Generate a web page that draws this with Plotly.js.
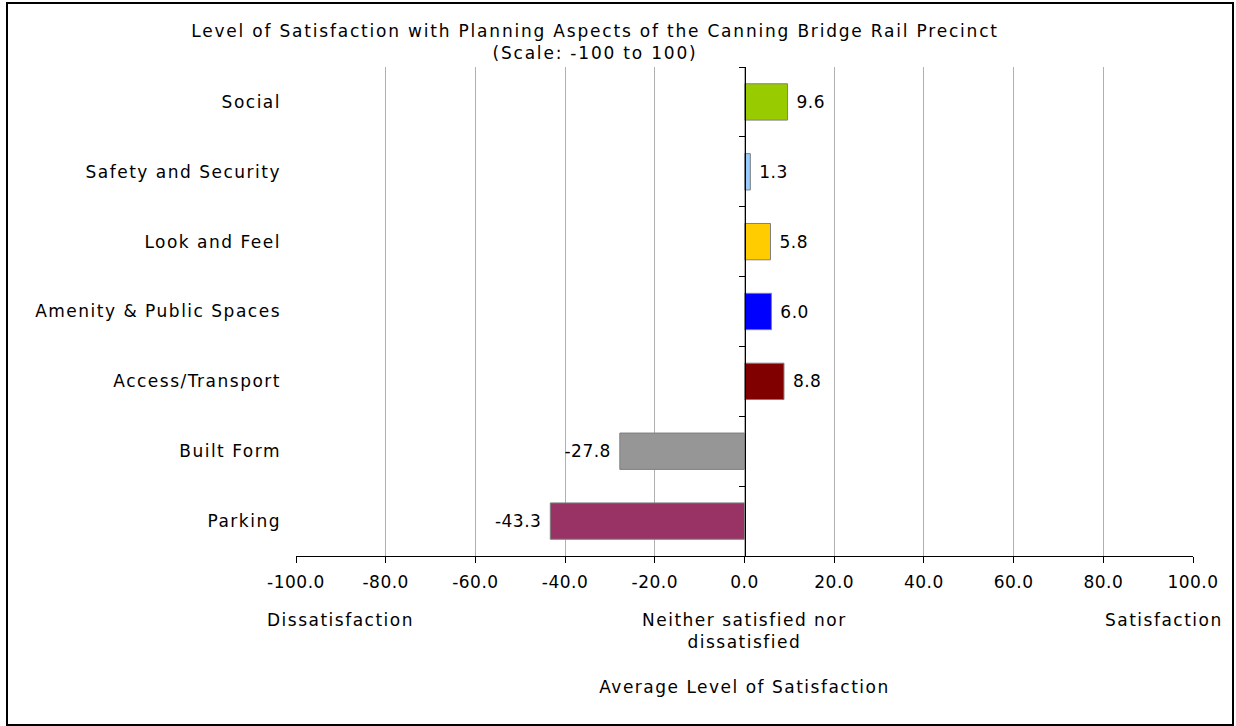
<!DOCTYPE html>
<html>
<head>
<meta charset="utf-8">
<script src="https://cdn.plot.ly/plotly-3.0.1.min.js"></script>
<style>
html,body{margin:0;padding:0;background:#fff;}
#chart{width:1236px;height:726px;}
svg text{letter-spacing:1.5px;}
svg .gtitle{letter-spacing:1.8px;}
svg .xtick text, svg .bartext{letter-spacing:0.5px;}
</style>
</head>
<body>
<div id="chart"></div>
<script>
// Data (top to bottom order as shown)
const categories = ["Social", "Safety and Security", "Look and Feel", "Amenity & Public Spaces", "Access/Transport", "Built Form", "Parking"];
const values = [9.6, 1.3, 5.8, 6.0, 8.8, -27.8, -43.3];
const barColors = ["#99CC00", "#99CCFF", "#FFCC00", "#0000FF", "#800000", "#969696", "#993366"];
const xTickVals = [-100, -80, -60, -40, -20, 0, 20, 40, 60, 80, 100];
const titleText = "Level of Satisfaction with Planning Aspects of the Canning Bridge Rail Precinct<br>(Scale: -100 to 100)";
const xTitleText = "Average Level of Satisfaction";

const FONT = "DejaVu Sans, Verdana, sans-serif";
const fontSize = 17;
const NB = "\u00a0";

// between-category tick positions for the zero axis
const catTicks = [];
for (let i = 0; i < categories.length; i++) catTicks.push(i - 0.5);

const trace = {
  type: "bar",
  orientation: "h",
  y: categories,
  x: values,
  marker: { color: barColors, line: { color: "#7f7f7f", width: 1 } },
  width: 0.52,
  text: values.map(v => v >= 0 ? NB + v.toFixed(1) : v.toFixed(1) + NB),
  textposition: "outside",
  textfont: { family: FONT, size: fontSize, color: "#000" },
  cliponaxis: false,
  hoverinfo: "x+y"
};

const W = 1236, H = 726;
const L = 296, R = 43, T = 67, B = 170;
const pw = W - L - R, ph = H - T - B;
const px = v => (v - L) / pw;        // pixel x -> paper x
const py = v => (H - B - v) / ph;    // pixel y -> paper y

const layout = {
  width: W, height: H,
  margin: { l: L, r: R, t: T, b: B },
  paper_bgcolor: "#fff",
  plot_bgcolor: "#fff",
  showlegend: false,
  font: { family: FONT, size: fontSize, color: "#000" },
  title: {
    text: titleText,
    font: { family: FONT, size: fontSize, color: "#000" },
    xref: "container", x: 595 / W, xanchor: "center",
    yref: "container", y: 1 - 37 / H, yanchor: "middle"
  },
  bargap: 0.48,
  xaxis: {
    range: [-100, 100],
    tickvals: xTickVals,
    ticktext: xTickVals.map(v => v.toFixed(1)),
    ticks: "outside", ticklen: 6, tickcolor: "#000", tickwidth: 1,
    ticklabelstandoff: 5,
    showline: true, linecolor: "#000", linewidth: 1,
    showgrid: true, gridcolor: "#b0b0b0", gridwidth: 1,
    zeroline: false,
    tickfont: { family: FONT, size: fontSize, color: "#000" },
    title: { text: xTitleText, font: { family: FONT, size: fontSize, color: "#000" }, standoff: 89 },
    fixedrange: true
  },
  yaxis: {
    type: "category",
    autorange: "reversed",
    showgrid: false, zeroline: false, showline: false,
    ticks: "", ticklabelstandoff: 14,
    tickfont: { family: FONT, size: fontSize, color: "#000" },
    fixedrange: true
  },
  yaxis2: {
    overlaying: "y",
    anchor: "free",
    position: 0.5,
    side: "left",
    range: [categories.length - 0.5, -0.5],
    tickvals: catTicks,
    showticklabels: false,
    ticks: "outside", ticklen: 6, tickcolor: "#000",
    showline: true, linecolor: "#000", linewidth: 1,
    showgrid: false, zeroline: false,
    fixedrange: true
  },
  annotations: [
    { text: "Dissatisfaction", xref: "paper", yref: "paper", x: px(340), y: py(620), xanchor: "center", yanchor: "middle", showarrow: false, font: { family: FONT, size: fontSize, color: "#000" } },
    { text: "Neither satisfied nor<br>dissatisfied", xref: "x", yref: "paper", x: 0, y: py(631), xanchor: "center", yanchor: "middle", showarrow: false, font: { family: FONT, size: fontSize, color: "#000" } },
    { text: "Satisfaction", xref: "paper", yref: "paper", x: px(1164), y: py(620), xanchor: "center", yanchor: "middle", showarrow: false, font: { family: FONT, size: fontSize, color: "#000" } }
  ],
  shapes: [
    { type: "rect", xref: "paper", yref: "paper", x0: px(7), x1: px(1233), y0: py(725), y1: py(3), line: { color: "#000", width: 2 }, fillcolor: "rgba(0,0,0,0)", layer: "below" }
  ]
};

// an invisible trace so the zero-line axis (yaxis2) is drawn
const dummy = { type: "scatter", x: [0], y: [0], yaxis: "y2", mode: "markers", marker: { opacity: 0 }, hoverinfo: "skip", showlegend: false };

Plotly.newPlot("chart", [trace, dummy], layout, { displayModeBar: false, staticPlot: true });
</script>
</body>
</html>
